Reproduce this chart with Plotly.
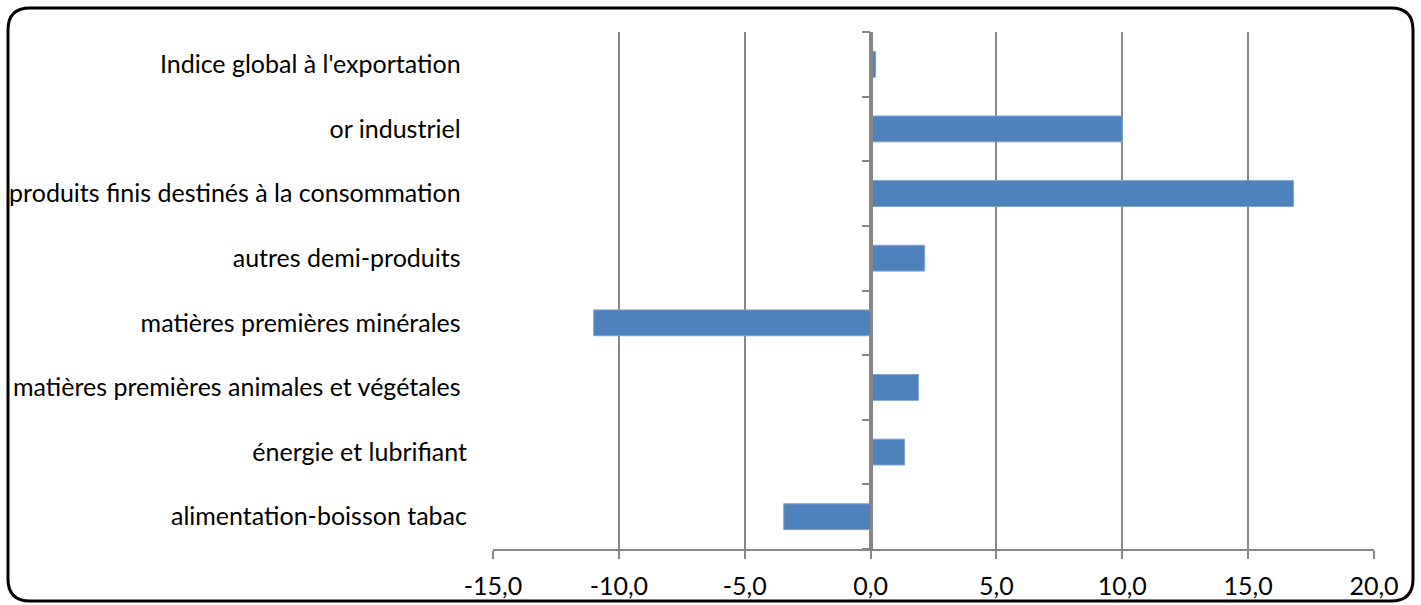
import plotly.graph_objects as go

categories = [
    "alimentation-boisson tabac",
    "énergie et lubrifiant",
    "matières premières animales et végétales\u00a0",
    "matières premières minérales\u00a0",
    "autres demi-produits\u00a0",
    "produits finis destinés à la consommation\u00a0",
    "or industriel\u00a0",
    "Indice global à l'exportation\u00a0",
]
values = [-3.45, 1.35, 1.9, -11.0, 2.15, 16.8, 10.0, 0.2]
x_tickvals = [-15, -10, -5, 0, 5, 10, 15, 20]
x_ticktext = ["-15,0", "-10,0", "-5,0", "0,0", "5,0", "10,0", "15,0", "20,0"]

W, H = 1421, 605
L, R, T, B = 493, 47, 32, 56
pw, ph = W - L - R, H - T - B

def px(x):
    return (x - L) / pw

def py(y):
    return (H - B - y) / ph

GRAY = "#868686"
FONT = "Lato"
FS = 25

fig = go.Figure()
fig.add_trace(go.Bar(
    y=categories, x=values, orientation="h", width=0.4,
    marker=dict(color="#4F81BD", line=dict(color="#7FA2D0", width=1)),
    hoverinfo="x+y",
))
fig.add_trace(go.Scatter(
    x=[0], y=[0], yaxis="y2", mode="markers",
    marker=dict(opacity=0), hoverinfo="skip", showlegend=False,
))

# rounded border
x0, x1, y0, y1 = px(8), px(1413), py(8), py(601)
rx, ry = 22 / pw, 22 / ph
path = (f"M {x0+rx},{y0} L {x1-rx},{y0} Q {x1},{y0} {x1},{y0-ry} "
        f"L {x1},{y1+ry} Q {x1},{y1} {x1-rx},{y1} "
        f"L {x0+rx},{y1} Q {x0},{y1} {x0},{y1+ry} "
        f"L {x0},{y0-ry} Q {x0},{y0} {x0+rx},{y0} Z")

fig.update_layout(
    width=W, height=H,
    margin=dict(l=L, r=R, t=T, b=B, autoexpand=False),
    paper_bgcolor="white", plot_bgcolor="white",
    showlegend=False,
    font=dict(family=FONT, size=FS, color="black"),
    xaxis=dict(
        range=[-15, 20], tickvals=x_tickvals, ticktext=x_ticktext,
        showgrid=True, gridcolor=GRAY, gridwidth=1.5,
        zeroline=True, zerolinecolor=GRAY, zerolinewidth=2.5,
        showline=True, linecolor=GRAY, linewidth=2,
        ticks="outside", ticklen=8, tickcolor=GRAY, tickwidth=1.5,
        tickfont=dict(family=FONT, size=FS),
        ticklabelstandoff=6, automargin=False,
        fixedrange=True,
    ),
    yaxis=dict(
        type="category", range=[-0.5, 7.5],
        showgrid=False, zeroline=False, showline=False, ticks="",
        tickfont=dict(family=FONT, size=FS),
        ticklabelstandoff=25, automargin=False,
        fixedrange=True,
    ),
    yaxis2=dict(
        overlaying="y", anchor="free", position=15 / 35,
        range=[-0.5, 7.5], tickvals=[-0.5, 0.5, 1.5, 2.5, 3.5, 4.5, 5.5, 6.5, 7.5],
        showticklabels=False, showgrid=False, zeroline=False,
        showline=True, linecolor=GRAY, linewidth=2.5,
        ticks="outside", ticklen=8, tickcolor=GRAY, tickwidth=2,
        automargin=False, fixedrange=True,
    ),
    shapes=[dict(type="path", xref="paper", yref="paper", path=path,
                 line=dict(color="black", width=3), fillcolor="rgba(0,0,0,0)",
                 layer="above")],
)

fig.write_html("out.html", config={"displayModeBar": False},
               post_script="document.body.style.margin='0';document.body.style.overflow='hidden';")
